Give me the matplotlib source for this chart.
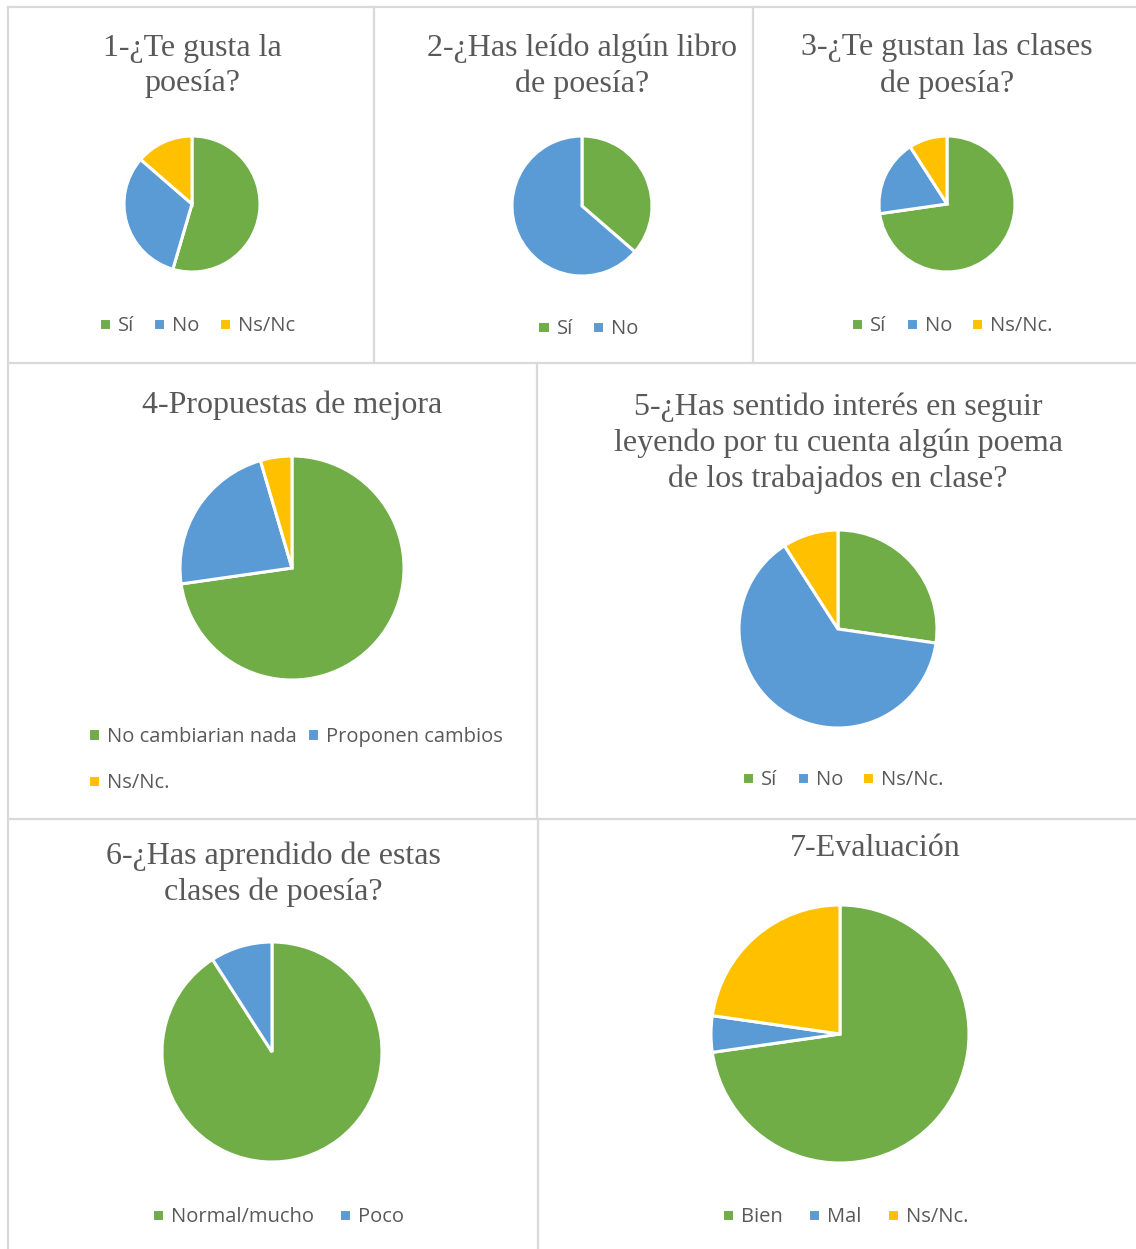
import matplotlib
matplotlib.use("Agg")
import matplotlib.pyplot as plt
from matplotlib.lines import Line2D

W, H = 1136, 1249
DPI = 100

GREEN = "#70AD47"
BLUE = "#5B9BD5"
YELLOW = "#FFC000"
TEXT = "#595959"
GRID = "#D9D9D9"

# survey answers (22 students)
titles = [
    "1-¿Te gusta la\npoesía?",
    "2-¿Has leído algún libro\nde poesía?",
    "3-¿Te gustan las clases\nde poesía?",
    "4-Propuestas de mejora",
    "5-¿Has sentido interés en seguir\nleyendo por tu cuenta algún poema\nde los trabajados en clase?",
    "6-¿Has aprendido de estas\nclases de poesía?",
    "7-Evaluación",
]
labels1 = ["Sí", "No", "Ns/Nc"]
counts1 = [12, 7, 3]
labels2 = ["Sí", "No"]
counts2 = [8, 14]
labels3 = ["Sí", "No", "Ns/Nc."]
counts3 = [16, 4, 2]
labels4 = ["No cambiarian nada", "Proponen cambios", "Ns/Nc."]
counts4 = [16, 5, 1]
labels5 = ["Sí", "No", "Ns/Nc."]
counts5 = [6, 14, 2]
labels6 = ["Normal/mucho", "Poco"]
counts6 = [20, 2]
labels7 = ["Bien", "Mal", "Ns/Nc."]
counts7 = [16, 1, 5]

all_labels = [labels1, labels2, labels3, labels4, labels5, labels6, labels7]
all_counts = [counts1, counts2, counts3, counts4, counts5, counts6, counts7]
colors = [GREEN, BLUE, YELLOW]

# layout in pixels: pie centre + radius, title centre, legend centre
pie_pos = [(192, 204, 68), (582, 206, 70), (947, 204, 68), (292, 568, 112),
           (838, 629, 99), (272, 1052, 110), (840, 1034, 129)]
title_pos = [(192, 66), (582, 66), (947, 66), (292, 405),
             (838, 443), (273, 874), (875, 849)]
legend_pos = [(197, 326), (588, 329), (952, 326), (None, None),
              (843, 780), (278, 1217), (845, 1217)]
col_space = [0.95, 0.95, 0.95, 0.5, 0.95, 1.25, 1.25]


def fx(x):
    return x / W


def fy(y):
    return 1 - y / H


fig = plt.figure(figsize=(W / DPI, H / DPI), dpi=DPI)
fig.patch.set_facecolor("white")

# table borders
grid_lines = [
    ((8, 7), (1136, 7)), ((8, 7), (8, 1249)), ((8, 363), (1136, 363)),
    ((374, 7), (374, 363)), ((753, 7), (753, 363)),
    ((8, 819), (1136, 819)), ((537, 363), (537, 819)), ((538, 819), (538, 1249)),
]
for (x0, y0), (x1, y1) in grid_lines:
    fig.add_artist(Line2D([fx(x0), fx(x1)], [fy(y0), fy(y1)],
                          transform=fig.transFigure, color=GRID, lw=1.6))

leg_font = {"family": "Open Sans", "size": 14.5}

for i in range(7):
    cx, cy, r = pie_pos[i]
    ax = fig.add_axes([fx(cx - r), fy(cy + r), 2 * r / W, 2 * r / H])
    wedges, _ = ax.pie(all_counts[i], colors=colors[:len(all_counts[i])],
                       startangle=90, counterclock=False,
                       wedgeprops=dict(edgecolor="white", linewidth=2.2))
    ax.set_xlim(-1, 1)
    ax.set_ylim(-1, 1)
    ax.set_aspect("equal")
    ax.axis("off")
    for w in wedges:
        w.set_clip_on(False)

    tx, ty = title_pos[i]
    fig.text(fx(tx), fy(ty), titles[i], ha="center", va="center",
             fontsize=23, family="Liberation Serif", color=TEXT,
             linespacing=1.3)

    handles = wedges
    labs = all_labels[i]
    if i == 3:
        # two rows: first two items on top, third below
        handles = [wedges[0], wedges[2], wedges[1]]
        labs = [labs[0], labs[2], labs[1]]
        fig.legend(handles, labs, loc="center left",
                   bbox_to_anchor=(fx(70), fy(760)), ncol=2, frameon=False,
                   handlelength=0.6, handleheight=0.6, handletextpad=0.35,
                   columnspacing=col_space[i], labelspacing=1.3,
                   labelcolor=TEXT, prop=leg_font)
    else:
        lx, ly = legend_pos[i]
        fig.legend(handles, labs, loc="center",
                   bbox_to_anchor=(fx(lx), fy(ly)), ncol=len(labs),
                   frameon=False, handlelength=0.6, handleheight=0.6,
                   handletextpad=0.35, columnspacing=col_space[i],
                   labelcolor=TEXT, prop=leg_font)

fig.savefig("out.png", dpi=DPI, facecolor="white")
